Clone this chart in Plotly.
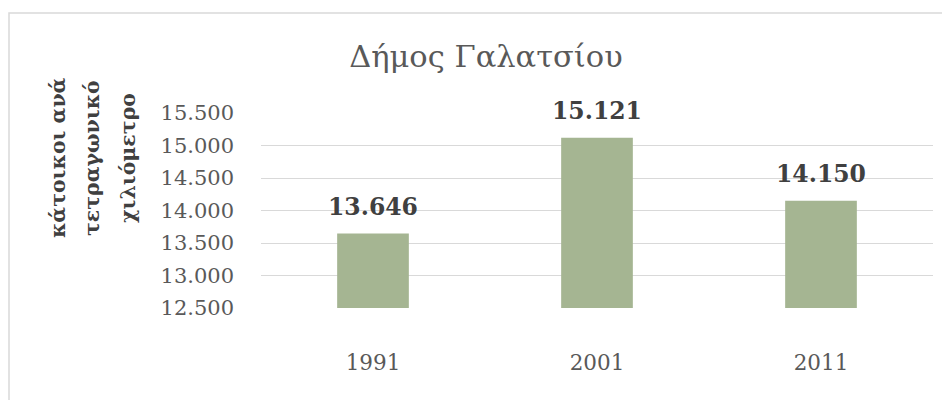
import plotly.graph_objects as go

years = ["1991", "2001", "2011"]
density = [13646, 15121, 14150]
y_ticks = [12500, 13000, 13500, 14000, 14500, 15000, 15500]
axis_title_lines = ["κάτοικοι ανά", "τετραγωνικό", "χιλιόμετρο"]

OFF = 8  # default page body margin
W, H = 950 - OFF, 400 - OFF
# plot area in screenshot pixels: x 261..933, y 113..308
L, R, T, B = 261 - OFF, 950 - 933, 113 - OFF, 400 - 308
pw, ph = W - L - R, H - T - B

def px_x(p):
    return (p - OFF - L) / pw

def px_y(p):
    return (H - B - (p - OFF)) / ph

FONT = "DejaVu Serif"

fig = go.Figure(go.Bar(
    x=years, y=density,
    marker=dict(color="#A5B592", line=dict(width=0)),
    hoverinfo="x+y",
))

annotations = []
for xc, line in zip([58, 92, 128], axis_title_lines):
    annotations.append(dict(
        text="<b>" + line + "</b>",
        xref="paper", yref="paper", x=px_x(xc), y=px_y(158),
        xanchor="center", yanchor="middle", textangle=-90,
        showarrow=False,
        font=dict(family=FONT, size=20.5, color="#404040"),
    ))
for i, v in enumerate(density):
    annotations.append(dict(
        text="<b>" + f"{v:,d}".replace(",", ".") + "</b>",
        xref="x", yref="y", x=i, y=v,
        xanchor="center", yanchor="bottom", yshift=11,
        showarrow=False,
        font=dict(family=FONT, size=23.5, color="#404040"),
    ))

fig.update_layout(
    width=W, height=H,
    margin=dict(l=L, r=R, t=T, b=B),
    paper_bgcolor="white", plot_bgcolor="white",
    separators=",.",
    bargap=0.68,
    showlegend=False,
    title=dict(text="Δήμος Γαλατσίου", x=(486 - OFF) / W, xanchor="center",
               y=1 - (56 - OFF) / H, yanchor="middle",
               font=dict(family=FONT, size=30.5, color="#595959")),
    xaxis=dict(type="category", categoryorder="array", categoryarray=years,
               showgrid=False, showline=False, zeroline=False,
               ticks="", ticklabelstandoff=39,
               tickfont=dict(family=FONT, size=21.5, color="#595959")),
    yaxis=dict(range=[12500, 15500], tickvals=y_ticks, tickformat=",d",
               showgrid=True, gridcolor="#D9D9D9", gridwidth=1,
               zeroline=False, showline=False, ticks="",
               ticklabelstandoff=26,
               tickfont=dict(family=FONT, size=21, color="#595959")),
    annotations=annotations,
    shapes=[dict(type="rect", xref="paper", yref="paper",
                 x0=px_x(9), x1=px_x(949), y0=px_y(403), y1=px_y(13),
                 line=dict(color="#D9D9D9", width=1.5), layer="below")],
)

fig.write_html("out.html")
